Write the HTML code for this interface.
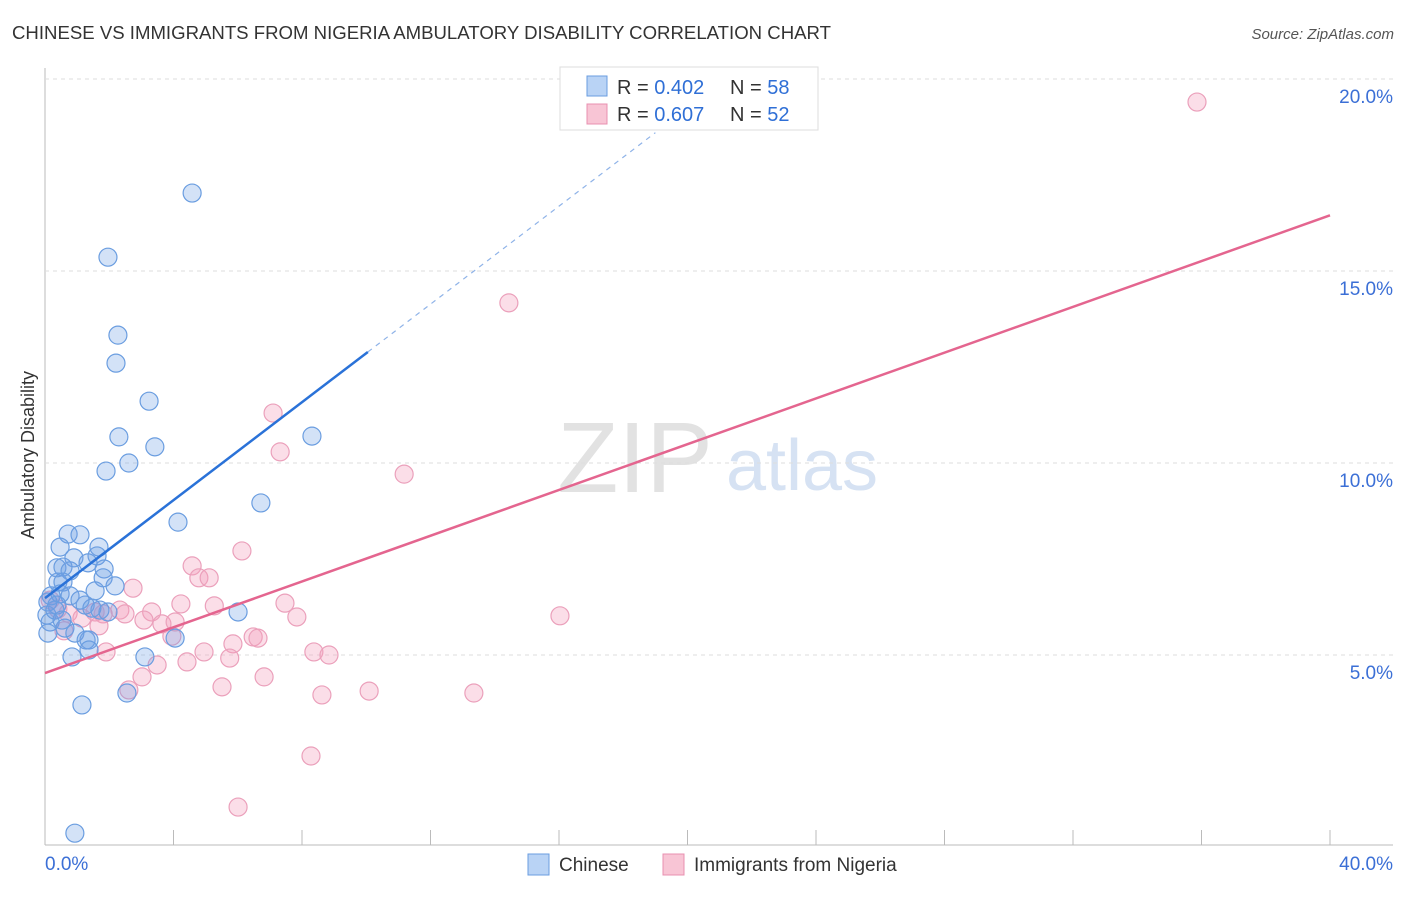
<!DOCTYPE html>
<html><head><meta charset="utf-8"><style>
body{margin:0;background:#fff;font-family:"Liberation Sans",sans-serif}
svg text{font-family:"Liberation Sans",sans-serif}
</style></head><body>
<svg id="c" width="1406" height="892">
<text x="12" y="39" font-size="18.6" fill="#333">CHINESE VS IMMIGRANTS FROM NIGERIA AMBULATORY DISABILITY CORRELATION CHART</text>
<text x="1394" y="39" font-size="15" fill="#555" text-anchor="end" font-style="italic">Source: ZipAtlas.com</text>
<text x="635" y="492" font-size="100" fill="#e2e2e2" font-family="Liberation Serif" text-anchor="middle">ZIP</text>
<text x="802" y="490" font-size="72" fill="#d6e2f3" text-anchor="middle">atlas</text>
<g id="grid"></g><g id="pts"></g><g id="lines"></g>
<text transform="translate(34,455) rotate(-90)" font-size="18" fill="#333" text-anchor="middle">Ambulatory Disability</text>
<g>
<rect x="560" y="67" width="258" height="63" fill="#fff" stroke="#ddd"/>
<rect x="587" y="76" width="20" height="20" fill="#b9d3f5" stroke="#6a9de0"/>
<rect x="587" y="104" width="20" height="20" fill="#f8c5d5" stroke="#e890b0"/>
<text x="617" y="94" font-size="20" fill="#333">R = <tspan fill="#2f6fd6">0.402</tspan></text>
<text x="730" y="94" font-size="20" fill="#333">N = <tspan fill="#2f6fd6">58</tspan></text>
<text x="617" y="121" font-size="20" fill="#333">R = <tspan fill="#2f6fd6">0.607</tspan></text>
<text x="730" y="121" font-size="20" fill="#333">N = <tspan fill="#2f6fd6">52</tspan></text>
</g>
<g>
<rect x="528" y="854" width="21" height="21" fill="#b9d3f5" stroke="#6a9de0"/>
<text x="559" y="871" font-size="19" fill="#333">Chinese</text>
<rect x="663" y="854" width="21" height="21" fill="#f8c5d5" stroke="#e890b0"/>
<text x="694" y="871" font-size="19" fill="#333">Immigrants from Nigeria</text>
</g>
</svg>
<script>
const yTicks=[5,10,15,20];
const yTickLabels=["5.0%","10.0%","15.0%","20.0%"];
const xTickLabels=["0.0%","40.0%"];
const chineseX=[4.58,1.96,2.27,2.21,3.24,2.30,3.42,8.31,2.61,1.90,6.72,4.14,0.72,1.09,0.47,1.68,0.90,1.62,1.34,0.37,0.56,1.84,0.78,1.81,0.40,2.18,0.56,1.56,0.19,0.47,0.78,0.09,0.37,1.25,1.71,1.96,6.01,1.46,0.06,0.16,0.62,0.93,0.09,1.28,1.37,4.05,1.37,0.84,3.11,2.55,1.15,0.93,0.31,0.53,1.09];
const chineseY=[17.03,15.36,13.33,12.60,11.61,10.68,10.42,10.70,10.0,9.79,8.96,8.46,8.15,8.13,7.81,7.81,7.53,7.58,7.40,7.27,7.29,7.24,7.19,7.01,6.90,6.80,6.90,6.67,6.54,6.59,6.54,6.38,6.30,6.30,6.17,6.12,6.12,6.22,6.04,5.86,5.70,5.57,5.57,5.39,5.39,5.44,5.13,4.95,4.95,4.01,3.70,0.36,6.17,5.91,6.43];
const nigeriaX=[35.86,14.44,7.10,7.32,11.18,6.13,4.58,4.79,5.11,2.74,16.03,7.47,4.23,5.27,7.84,3.32,2.33,2.49,1.56,1.81,3.08,3.64,4.05,0.72,0.40,1.15,1.68,0.59,3.95,6.48,5.85,6.63,1.90,4.95,5.75,8.37,8.84,4.42,3.49,3.02,6.82,5.51,2.61,8.62,10.09,13.35,8.28,6.01,0.16];
const nigeriaY=[19.40,14.17,11.30,10.29,9.71,7.71,7.32,7.01,7.01,6.74,6.02,6.35,6.33,6.28,5.99,6.12,6.17,6.07,6.12,6.07,5.91,5.81,5.86,6.09,6.20,5.96,5.76,5.63,5.49,5.47,5.29,5.44,5.08,5.08,4.92,5.08,5.0,4.82,4.74,4.43,4.43,4.17,4.09,3.96,4.06,4.01,2.37,1.04,6.43];
const chineseTrend=[6.48,0.638];
const nigeriaTrend=[4.53,0.298];
const NS="http://www.w3.org/2000/svg";
const X=v=>45+v/40*1285, Y=v=>847-v*38.4;
function mk(t,a,p){const e=document.createElementNS(NS,t);for(const k in a)e.setAttribute(k,a[k]);p.appendChild(e);return e;}
const grid=document.getElementById('grid');
let ax=mk('line',{x1:45,y1:68,x2:45,y2:845,stroke:'#bbb'},grid);


let bx=mk('line',{x1:45,y1:845,x2:1393,y2:845,stroke:'#bbb'},grid);


for(let i=0;i<=10;i++){const t=mk('line',{x1:X(i*4),y1:830,x2:X(i*4),y2:845,stroke:'#bbb'},grid);

}
yTicks.forEach((v,i)=>{const g=mk('line',{x1:45,y1:Y(v),x2:1393,y2:Y(v),stroke:'#ddd','stroke-dasharray':'4,4'},grid);


const t=mk('text',{x:1393,y:Y(v)+24,'font-size':19,fill:'#3b6fd6','text-anchor':'end'},grid);t.textContent=yTickLabels[i];

});
const xl0=mk('text',{x:45,y:870,'font-size':19,fill:'#3b6fd6'},grid);xl0.textContent=xTickLabels[0];


const xl1=mk('text',{x:1393,y:870,'font-size':19,fill:'#3b6fd6','text-anchor':'end'},grid);xl1.textContent=xTickLabels[1];


const pts=document.getElementById('pts');
nigeriaX.forEach((x,i)=>{const c=mk('circle',{cx:X(x),cy:Y(nigeriaY[i]),r:9,fill:'rgba(244,160,190,0.35)',stroke:'#eba0bb','stroke-width':1.2},pts);

});
chineseX.forEach((x,i)=>{const c=mk('circle',{cx:X(x),cy:Y(chineseY[i]),r:9,fill:'rgba(110,160,230,0.3)',stroke:'#6a9de0','stroke-width':1.2},pts);

});
const L=document.getElementById('lines');
const bl=mk('line',{x1:X(0),y1:Y(chineseTrend[0]),x2:X(10.05),y2:Y(chineseTrend[0]+chineseTrend[1]*10.05),stroke:'#2a72d8','stroke-width':2.5},L);


const bd=mk('line',{x1:X(10.05),y1:Y(chineseTrend[0]+chineseTrend[1]*10.05),x2:X(19),y2:Y(chineseTrend[0]+chineseTrend[1]*19),stroke:'#8fb3e8','stroke-width':1.2,'stroke-dasharray':'5,5'},L);


const pl=mk('line',{x1:X(0),y1:Y(nigeriaTrend[0]),x2:X(40),y2:Y(nigeriaTrend[0]+nigeriaTrend[1]*40),stroke:'#e4658f','stroke-width':2.5},L);


</script>
</body></html>
